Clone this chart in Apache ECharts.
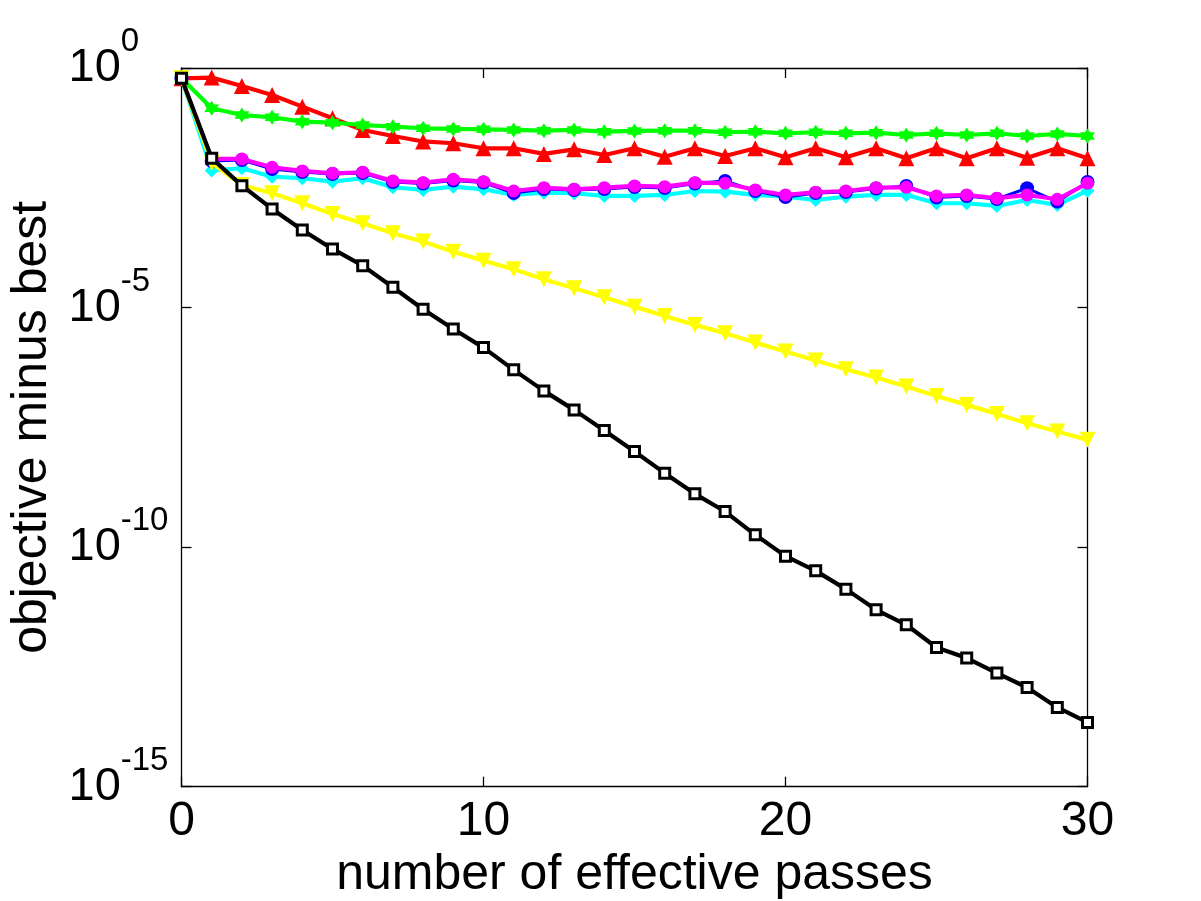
<!DOCTYPE html>
<html>
<head>
<meta charset="utf-8">
<script src="https://cdn.jsdelivr.net/npm/echarts@6/dist/echarts.min.js"></script>
<style>
html,body{margin:0;padding:0;background:#fff;}
#chart{width:1201px;height:901px;}
</style>
</head>
<body>
<div id="chart"></div>
<script>
const passes = [0,1,2,3,4,5,6,7,8,9,10,11,12,13,14,15,16,17,18,19,20,21,22,23,24,25,26,27,28,29,30];

const redTriangle = [0.61,0.63,0.421,0.273,0.156,0.0892,0.0509,0.0381,0.0293,0.0269,0.0211,0.0211,0.0161,0.0201,0.0153,0.0211,0.0141,0.0211,0.0146,0.0211,0.0137,0.0211,0.0137,0.0211,0.0131,0.0211,0.0131,0.0211,0.0134,0.0211,0.0131];

const greenStar = [0.61,0.1443,0.1046,0.0936,0.0758,0.0722,0.0647,0.0596,0.0552,0.0534,0.0526,0.0509,0.0492,0.0509,0.0469,0.0485,0.0492,0.0492,0.0456,0.0469,0.0434,0.0456,0.0434,0.0447,0.0400,0.0434,0.0400,0.0434,0.0381,0.0420,0.0381];

const blueCircle = [0.61,0.01147,0.01204,0.00781,0.00676,0.00614,0.00645,0.00418,0.00389,0.00449,0.00408,0.002466,0.00299,0.00285,0.00299,0.00329,0.00314,0.00389,0.00439,0.00271,0.002035,0.002466,0.00259,0.00306,0.00345,0.001987,0.002135,0.00185,0.00309,0.001624,0.00418];

const cyanDiamond = [0.61,0.00727,0.00808,0.0054,0.004997,0.00424,0.004997,0.00324,0.00285,0.00334,0.00294,0.00224,0.0025,0.00243,0.002135,0.002135,0.00224,0.00271,0.00262,0.00224,0.002065,0.00176,0.002065,0.00224,0.00224,0.001503,0.001503,0.00132,0.00176,0.001385,0.00275];

const magentaCircle = [0.61,0.01263,0.01263,0.00848,0.0071,0.00635,0.00667,0.00439,0.00404,0.00476,0.00424,0.00271,0.00318,0.00294,0.00318,0.00345,0.00334,0.00404,0.00393,0.00285,0.00224,0.00255,0.00271,0.00318,0.00324,0.002135,0.00224,0.00191,0.00224,0.00182,0.00393];

const yellowTriangle = [0.61,0.01042,0.00362,0.00243,0.001503,0.000899,0.000575,0.000356,0.000238,0.000147,9.54e-5,6.31e-5,3.90e-5,2.53e-5,1.644e-5,1.046e-5,6.70e-6,4.35e-6,2.92e-6,1.856e-6,1.216e-6,7.82e-7,5.17e-7,3.455e-7,2.243e-7,1.434e-7,9.31e-8,6.04e-8,3.86e-8,2.58e-8,1.733e-8];

const blackSquare = [0.61,0.01306,0.0035,0.001143,0.000417,0.0001673,7.50e-5,2.658e-5,9.24e-6,3.585e-6,1.46e-6,5.01e-7,1.824e-7,7.32e-8,2.708e-8,9.88e-9,3.50e-9,1.294e-9,5.53e-10,1.806e-10,6.49e-11,3.20e-11,1.329e-11,4.92e-12,2.393e-12,8.04e-13,4.83e-13,2.35e-13,1.177e-13,4.50e-14,2.19e-14];

const xTicks = [0, 10, 20, 30];
const yTickExponents = [0, -5, -10, -15];

const FONT = "'Liberation Sans', Arial, sans-serif";
const hexagram = 'path://M0,-10 L2.885,-5 L8.66,-5 L5.77,0 L8.66,5 L2.885,5 L0,10 L-2.885,5 L-8.66,5 L-5.77,0 L-8.66,-5 L-2.885,-5 Z';

function pairs(vals) { return passes.map((x, i) => [x, vals[i]]); }

function mkSeries(name, vals, color, symbol, size, extra) {
  return Object.assign({
    name: name,
    type: 'line',
    data: pairs(vals),
    xAxisIndex: 0,
    yAxisIndex: 0,
    symbol: symbol,
    symbolSize: size,
    showAllSymbol: true,
    lineStyle: { color: color, width: 4.2 },
    itemStyle: { color: color, borderColor: color, borderWidth: 0 },
    emphasis: { disabled: true },
    animation: false
  }, extra || {});
}

const chart = echarts.init(document.getElementById('chart'), null, { renderer: 'canvas' });

const yLabelFormatter = function (v) {
  const e = Math.round(Math.log10(v));
  if (yTickExponents.indexOf(e) < 0) return '';
  return '{b|10}{e|' + e + '}';
};

chart.setOption({
  backgroundColor: '#fff',
  animation: false,
  textStyle: { fontFamily: FONT },
  grid: { left: 181.5, right: 113.5, top: 68, bottom: 114.3, containLabel: false, outerBoundsMode: 'none' },
  xAxis: [
    {
      type: 'value', min: 0, max: 30, interval: 10, position: 'bottom',
      name: 'number of effective passes', nameLocation: 'middle', nameGap: 59,
      nameTextStyle: { fontSize: 50, color: '#000', fontFamily: FONT },
      axisLine: { show: true, onZero: false, lineStyle: { color: '#000', width: 1.3 } },
      axisTick: { show: true, inside: true, length: 10, lineStyle: { color: '#000', width: 1.3 } },
      axisLabel: { show: true, fontSize: 48, color: '#000', margin: 11, fontFamily: FONT,
        formatter: function (v) { return xTicks.indexOf(v) >= 0 ? String(v) : ''; } },
      splitLine: { show: false }
    },
    {
      type: 'value', min: 0, max: 30, interval: 10, position: 'top',
      axisLine: { show: true, onZero: false, lineStyle: { color: '#000', width: 1.3 } },
      axisTick: { show: true, inside: true, length: 10, lineStyle: { color: '#000', width: 1.3 } },
      axisLabel: { show: false },
      splitLine: { show: false }
    }
  ],
  yAxis: [
    {
      type: 'log', logBase: 10, min: 1e-15, max: 1, interval: 5, position: 'left',
      name: 'objective minus best', nameLocation: 'middle', nameGap: 122,
      nameTextStyle: { fontSize: 50, color: '#000', fontFamily: FONT },
      axisLine: { show: true, onZero: false, lineStyle: { color: '#000', width: 1.3 } },
      axisTick: { show: true, inside: true, length: 10, lineStyle: { color: '#000', width: 1.3 } },
      minorTick: { show: false },
      axisLabel: {
        show: true, align: 'left', margin: 113, color: '#000', fontFamily: FONT,
        formatter: yLabelFormatter,
        rich: {
          b: { fontSize: 47, lineHeight: 47, color: '#000', fontFamily: FONT, verticalAlign: 'middle' },
          e: { fontSize: 33, lineHeight: 33, color: '#000', fontFamily: FONT, verticalAlign: 'middle', padding: [0, 0, 52, 0] }
        }
      },
      splitLine: { show: false }
    },
    {
      type: 'log', logBase: 10, min: 1e-15, max: 1, interval: 5, position: 'right',
      axisLine: { show: true, onZero: false, lineStyle: { color: '#000', width: 1.3 } },
      axisTick: { show: true, inside: true, length: 10, lineStyle: { color: '#000', width: 1.3 } },
      minorTick: { show: false },
      axisLabel: { show: false },
      splitLine: { show: false }
    }
  ],
  series: [
    mkSeries('red triangles', redTriangle, '#ff0000', 'triangle', 16, { z: 2 }),
    mkSeries('green stars', greenStar, '#00ff00', hexagram, 15, { z: 3 }),
    mkSeries('cyan diamonds', cyanDiamond, '#00ffff', 'diamond', 14, { z: 4 }),
    mkSeries('blue circles', blueCircle, '#0000ff', 'circle', 14, { z: 5, lineStyle: { color: '#0000ff', width: 3 } }),
    mkSeries('magenta circles', magentaCircle, '#ff00ff', 'circle', 13, { z: 6 }),
    mkSeries('yellow triangles', yellowTriangle, '#ffff00', 'triangle', 16, { z: 7, symbolRotate: 180 }),
    mkSeries('black squares', blackSquare, '#000000', 'rect', 10, { z: 8,
      itemStyle: { color: '#ffffff', borderColor: '#000000', borderWidth: 3 } })
  ]
});
</script>
</body>
</html>
